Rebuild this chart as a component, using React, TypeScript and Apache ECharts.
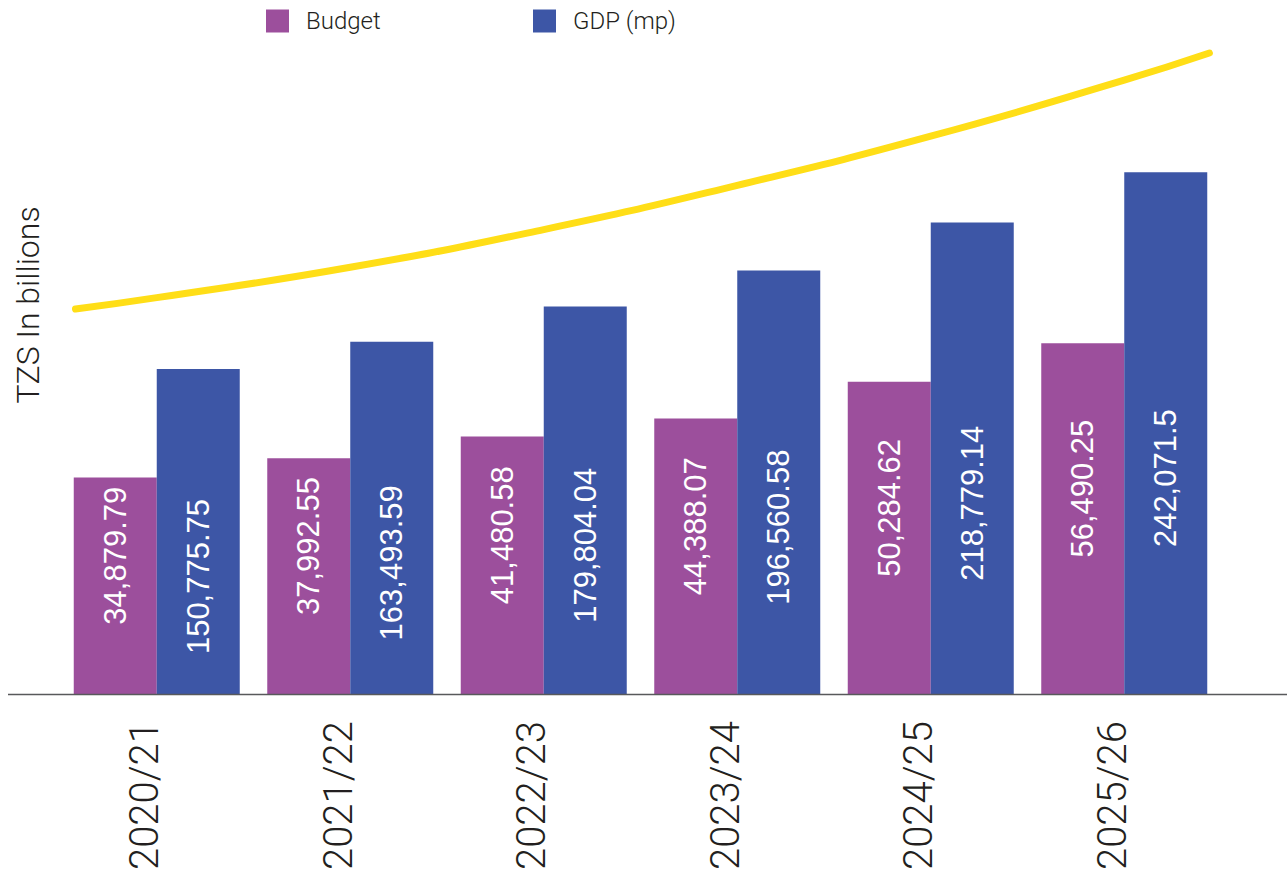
import React, { useEffect, useRef } from "react";
import * as echarts from "echarts";

const categories = ["2020/21", "2021/22", "2022/23", "2023/24", "2024/25", "2025/26"];
const budgetValues = [34879.79, 37992.55, 41480.58, 44388.07, 50284.62, 56490.25];
const gdpValues = [150775.75, 163493.59, 179804.04, 196560.58, 218779.14, 242071.5];
const trendPositions = [-0.42, 0, 1, 2, 3, 4, 5, 5.44];
const trendValues = [178600, 183900, 198000, 215500, 236000, 258800, 284800, 297400];
const seriesNames = ["Budget", "GDP (mp)"];
const axisTitle = "TZS In billions";

const fmt = (v: number) =>
  v.toLocaleString("en-US", { minimumFractionDigits: 0, maximumFractionDigits: 2 });

const LIGHT = "Roboto";
const TEXT = "#231f20";

export default function App() {
  const ref = useRef<HTMLDivElement>(null);
  useEffect(() => {
    document.body.style.margin = "0";
    if (!ref.current) return;
    const chart = echarts.init(ref.current, null, { renderer: "svg" });
    const legendBase = {
      top: 9,
      padding: 0,
      itemWidth: 23,
      itemHeight: 23,
      icon: "rect",
      textStyle: {
        fontSize: 24,
        fontFamily: LIGHT,
        fontWeight: 300,
        color: TEXT,
        padding: [0, 0, 0, 12],
      },
    };
    const option: any = {
      animation: false,
      backgroundColor: "#ffffff",
      grid: { left: 60, right: 66, top: 44, bottom: 185, containLabel: false },
      legend: [
        { ...legendBase, data: [seriesNames[0]], left: 266 },
        { ...legendBase, data: [seriesNames[1]], left: 533 },
      ],
      xAxis: [
        {
          type: "category",
          data: categories,
          axisLine: { show: false },
          axisTick: { show: false },
          axisLabel: {
            rotate: 90,
            margin: 27,
            fontSize: 40,
            fontFamily: LIGHT,
            fontWeight: 300,
            color: TEXT,
            verticalAlign: "bottom",
            lineHeight: 24,
          },
        },
        { type: "value", min: -0.5, max: 5.5, show: false },
      ],
      yAxis: [
        {
          type: "value",
          min: 0,
          max: 104700,
          name: axisTitle,
          nameLocation: "middle",
          nameGap: 16,
          nameRotate: 90,
          nameTextStyle: {
            fontSize: 32,
            fontFamily: LIGHT,
            fontWeight: 300,
            color: TEXT,
            padding: [0, 0, 0, 128],
          },
          axisLine: { show: false },
          axisTick: { show: false },
          axisLabel: { show: false },
          splitLine: { show: false },
        },
        { type: "value", min: 0, max: 301600, show: false },
      ],
      series: [
        {
          name: seriesNames[0],
          type: "bar",
          data: budgetValues,
          xAxisIndex: 0,
          yAxisIndex: 0,
          barWidth: 83,
          barGap: "0%",
          itemStyle: { color: "#9c4f9c" },
          label: {
            show: true,
            position: "inside",
            rotate: 90,
            offset: [30, 0],
            color: "#ffffff",
            fontSize: 31,
            fontFamily: "Liberation Sans",
            formatter: (p: any) => fmt(p.value),
          },
        },
        {
          name: seriesNames[1],
          type: "bar",
          data: gdpValues,
          xAxisIndex: 0,
          yAxisIndex: 1,
          barWidth: 83,
          barGap: "0%",
          itemStyle: { color: "#3d56a6" },
          label: {
            show: true,
            position: "inside",
            rotate: 90,
            offset: [-45, 0],
            color: "#ffffff",
            fontSize: 31,
            fontFamily: "Liberation Sans",
            formatter: (p: any) => fmt(p.value),
          },
        },
        {
          name: "trend",
          type: "line",
          xAxisIndex: 1,
          yAxisIndex: 1,
          data: trendPositions.map((p, i) => [p, trendValues[i]]),
          smooth: true,
          showSymbol: false,
          silent: true,
          lineStyle: { color: "#ffde17", width: 7, cap: "round" },
          z: 5,
        },
      ],
      graphic: [
        {
          type: "line",
          shape: { x1: 8, y1: 694.5, x2: 1287, y2: 694.5 },
          style: { stroke: "#58595b", lineWidth: 1.5 },
          z: 10,
        },
      ],
    };
    chart.setOption(option);
    return () => chart.dispose();
  }, []);
  return <div ref={ref} style={{ width: 1287, height: 879 }} />;
}
